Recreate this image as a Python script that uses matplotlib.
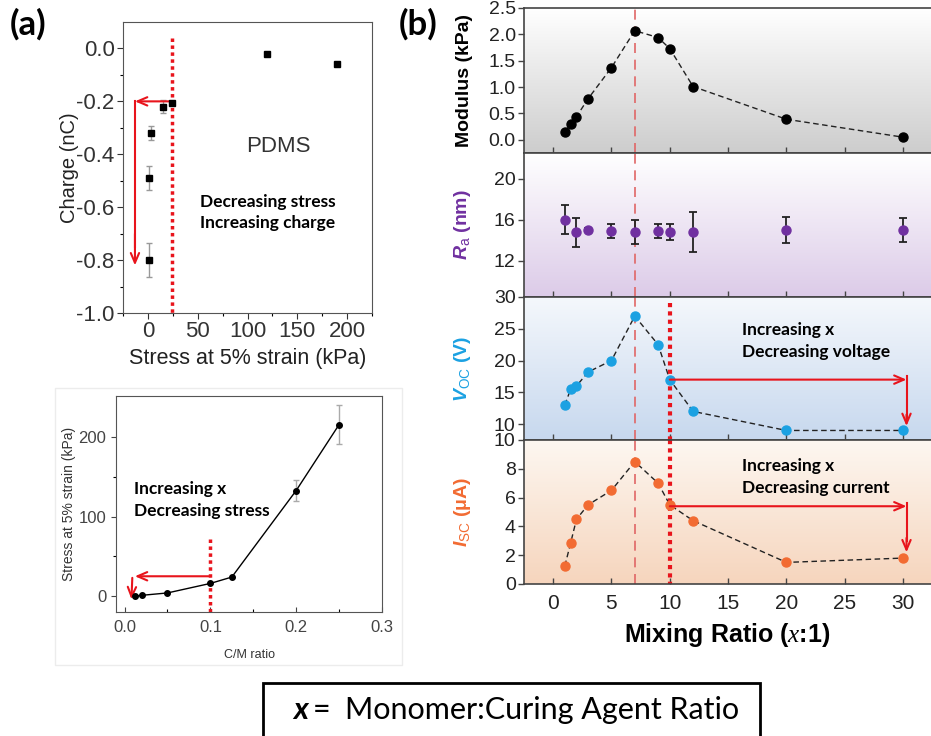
import numpy as np
import matplotlib
matplotlib.use("Agg")
import matplotlib.pyplot as plt
from matplotlib.colors import LinearSegmentedColormap
from matplotlib.patches import Rectangle

plt.rcParams['font.family'] = ['Liberation Sans', 'DejaVu Sans']
plt.rcParams['mathtext.fontset'] = 'custom'
plt.rcParams['mathtext.it'] = 'Liberation Sans:italic:bold'
plt.rcParams['mathtext.rm'] = 'Liberation Sans'
plt.rcParams['mathtext.sf'] = 'Liberation Serif:italic'

# ---- data: panel (a) top, charge vs stress
stress_a = [120, 190, 24, 15, 3, 1, 1]
charge = [-0.02, -0.06, -0.205, -0.22, -0.32, -0.49, -0.80]
charge_err = [0, 0, 0, 0.025, 0.025, 0.045, 0.065]

# ---- panel (a) bottom, stress vs C/M ratio
cm_ratio = [0.0125, 0.02, 0.05, 0.1, 0.125, 0.2, 0.25]
stress_cm = [0, 1, 4, 16, 24, 133, 216]
stress_err = [0, 0, 0, 0, 0, 13, 25]

# ---- panel (b), vs mixing ratio
mix = [1, 1.5, 2, 3, 5, 7, 9, 10, 12, 20, 30]
modulus = [0.15, 0.3, 0.44, 0.78, 1.37, 2.07, 1.94, 1.73, 1.01, 0.39, 0.05]
mix_ra = [1, 2, 3, 5, 7, 9, 10, 12, 20, 30]
ra = [16.0, 14.8, 15.0, 14.9, 14.8, 14.9, 14.8, 14.8, 15.0, 15.0]
ra_err = [1.4, 1.4, 0.2, 0.7, 1.15, 0.7, 0.8, 1.95, 1.25, 1.2]
voc = [13.0, 15.5, 16.0, 18.2, 20.0, 27.0, 22.5, 17.0, 12.0, 9.0, 9.0]
isc = [1.25, 2.85, 4.5, 5.5, 6.5, 8.5, 7.0, 5.5, 4.4, 1.5, 1.8]

RED = '#e8141c'
PURPLE = '#7030a0'
BLUE = '#1ba1e2'
ORANGE = '#f26b32'
ANN_FONT = ['Lato', 'DejaVu Sans']

W, H = 931, 736
fig = plt.figure(figsize=(W / 100, H / 100), dpi=100)


def box(l, t, r, b):
    return [l / W, 1 - b / H, (r - l) / W, (b - t) / H]


def arrow(ax, start, end, lw=1.5):
    ax.annotate('', xy=end, xytext=start,
                arrowprops=dict(arrowstyle='->,head_length=0.7,head_width=0.3',
                                color=RED, lw=lw, shrinkA=0, shrinkB=0))


def gradient(ax, top, bottom):
    c = np.linspace(0, 1, 256)[:, None]
    cmap = LinearSegmentedColormap.from_list('g', [top, bottom])
    ax.imshow(c, aspect='auto', cmap=cmap, extent=[0, 1, 0, 1],
              transform=ax.transAxes, zorder=0)


# ================= (a) top =================
ax = fig.add_axes(box(123, 22, 372, 313))
ax.errorbar(stress_a, charge, yerr=charge_err, fmt='s', color='black', ms=5,
            ecolor='#999999', elinewidth=1, capsize=2.5, zorder=3)
ax.set_xlim(-25, 225)
ax.set_ylim(-1.0, 0.1)
ax.set_xticks([0, 50, 100, 150, 200])
ax.set_xticks(np.arange(-25, 226, 25), minor=True)
ax.set_yticks(np.arange(-1.0, 0.01, 0.2))
ax.set_yticks(np.arange(-1.0, 0.1, 0.1), minor=True)
ax.set_yticklabels(['-1.0', '-0.8', '-0.6', '-0.4', '-0.2', '0.0'])
ax.tick_params(labelsize=16, colors='#333333', length=4, width=0.8, pad=2)
ax.tick_params(which='minor', length=2.5, width=0.8)
for s in ax.spines.values():
    s.set_color('#555555')
ax.set_xlabel('Stress at 5% strain (kPa)', fontsize=15.5, color='#222222', labelpad=4)
ax.set_ylabel('Charge (nC)', fontsize=14.5, color='#222222', labelpad=-2)
ax.plot([24, 24], [0.04, -1.0], color=RED, lw=2.5, ls=(0, (1, 1)), zorder=2, clip_on=False)
arrow(ax, (24, -0.2), (-13, -0.2))
ax.plot([-13, -13], [-0.2, -0.75], color=RED, lw=1.5)
arrow(ax, (-13, -0.7), (-13, -0.82))
ax.text(131, -0.37, 'PDMS', fontsize=16, color='#333333', ha='center', va='center')
ax.text(52, -0.62, 'Decreasing stress\nIncreasing charge', fontsize=12.5, fontweight='bold',
        family=ANN_FONT, ha='left', va='center', linespacing=1.45)

# ================= (a) bottom =================
fig.patches.append(Rectangle((55 / W, 1 - 665 / H), 347 / W, 277 / H, transform=fig.transFigure,
                             fill=False, edgecolor='#ececec', lw=1))
ax = fig.add_axes(box(116, 396, 382, 612))
ax.errorbar(cm_ratio, stress_cm, yerr=stress_err, fmt='o-', color='black', ms=4,
            lw=1, ecolor='#aaaaaa', elinewidth=1, capsize=2.5, zorder=3)
ax.set_xlim(-0.01, 0.3)
ax.set_ylim(-20, 252)
ax.set_xticks([0.0, 0.1, 0.2, 0.3])
ax.set_xticks(np.arange(0, 0.31, 0.05), minor=True)
ax.set_yticks([0, 100, 200])
ax.set_yticks([50, 150], minor=True)
ax.tick_params(labelsize=12, colors='#444444', length=3.5, width=0.8)
ax.tick_params(axis='x', direction='in', pad=6)
ax.tick_params(which='minor', length=2, width=0.8)
ax.tick_params(axis='x', which='minor', direction='in')
for s in ax.spines.values():
    s.set_color('#555555')
ax.set_xlabel('C/M ratio', fontsize=9, color='#333333', labelpad=10)
ax.set_ylabel('Stress at 5% strain (kPa)', fontsize=10, color='#333333', labelpad=2)
ax.plot([0.1, 0.1], [72, -20], color=RED, lw=2.5, ls=(0, (1, 1)), zorder=2)
arrow(ax, (0.1, 25), (0.012, 25))
arrow(ax, (0.009, 23), (0.008, -4))
ax.text(0.0105, 121, 'Increasing x\nDecreasing stress', fontsize=12.5, fontweight='bold',
        family=ANN_FONT, ha='left', va='center', linespacing=1.45)

# ================= (b) stacked =================
XL = (-2.5, 32.4)
rows = [(8, 153), (153, 297), (297, 440), (440, 584)]
bgs = [('#ffffff', '#cdcdcd'), ('#ffffff', '#dccbe8'),
       ('#f5f8fc', '#c7d8ee'), ('#fdf7f1', '#f6d5bd')]
axes_b = []
for (t, b), (c1, c2) in zip(rows, bgs):
    axb = fig.add_axes(box(524, t, 931, b))
    gradient(axb, c1, c2)
    axb.set_xlim(*XL)
    axb.set_xticks(np.arange(0, 31, 5))
    axb.tick_params(axis='x', direction='in', length=4, width=1, color='#444444')
    axb.tick_params(axis='y', direction='out', length=4, width=1, color='#444444',
                    labelsize=14, labelcolor='#222222', pad=2)
    axb.tick_params(axis='x', labelbottom=False)
    axb.spines['right'].set_visible(False)
    for s in axb.spines.values():
        s.set_color('#444444')
        s.set_linewidth(1.2)
    axb.axvline(7, color='#e06666', lw=1.2, ls=(0, (6, 4)), zorder=1)
    axes_b.append(axb)

a1, a2, a3, a4 = axes_b
dash = (0, (4, 2.5))

a1.plot(mix, modulus, color='#222222', lw=1, ls=dash, zorder=2)
a1.plot(mix, modulus, 'o', color='black', ms=6.5, zorder=3)
a1.set_ylim(-0.25, 2.5)
a1.set_yticks(np.arange(0, 2.51, 0.5))
a1.set_yticklabels(['0.0', '0.5', '1.0', '1.5', '2.0', '2.5'])
a1.set_ylabel('Modulus (kPa)', fontsize=14, fontweight='bold')

a2.errorbar(mix_ra, ra, yerr=ra_err, fmt='o', color=PURPLE, ms=6.5, ecolor='#222222',
            elinewidth=1.3, capsize=3, capthick=1.3, zorder=3)
a2.set_ylim(8.5, 22.5)
a2.set_yticks([12, 16, 20])
a2.set_ylabel(r'$R_\mathrm{a}$ (nm)', fontsize=14, fontweight='bold', color=PURPLE)

a3.plot(mix, voc, color='#222222', lw=1, ls=dash, zorder=2)
a3.plot(mix, voc, 'o', color=BLUE, ms=6.5, zorder=3)
a3.set_ylim(7.5, 30)
a3.set_yticks([10, 15, 20, 25, 30])
a3.set_ylabel(r'$V_\mathrm{OC}$ (V)', fontsize=14, fontweight='bold', color=BLUE)
a3.plot([10, 10], [29, 7.5], color=RED, lw=3, ls=(0, (1, 1)), zorder=2)
arrow(a3, (10, 17), (30.3, 17))
a3.plot([30.3, 30.3], [17.5, 11], color=RED, lw=1.5)
arrow(a3, (30.3, 11.5), (30.3, 9.7))
a3.text(16.2, 23.1, 'Increasing x\nDecreasing voltage', fontsize=12.5, fontweight='bold',
        family=ANN_FONT, ha='left', va='center', linespacing=1.45)

a4.plot(mix, isc, color='#222222', lw=1, ls=dash, zorder=2)
a4.plot(mix, isc, 'o', color=ORANGE, ms=6.5, zorder=3)
a4.set_ylim(0, 10)
a4.set_yticks([0, 2, 4, 6, 8, 10])
a4.set_ylabel('$I_\\mathrm{SC}$ (\u03bcA)', fontsize=14, fontweight='bold', color=ORANGE)
a4.plot([10, 10], [10, 0], color=RED, lw=3, ls=(0, (1, 1)), zorder=2)
arrow(a4, (10, 5.4), (30.3, 5.4))
a4.plot([30.3, 30.3], [5.6, 3], color=RED, lw=1.5)
arrow(a4, (30.3, 3.2), (30.3, 2.2))
a4.text(16.2, 7.45, 'Increasing x\nDecreasing current', fontsize=12.5, fontweight='bold',
        family=ANN_FONT, ha='left', va='center', linespacing=1.45)
a4.tick_params(axis='x', labelbottom=True, labelsize=15, labelcolor='#222222', pad=7)
a4.set_xlabel(r'Mixing Ratio ($\mathsf{x}$:1)', fontsize=18, fontweight='bold', labelpad=6)

for axb in axes_b:
    axb.yaxis.set_label_coords(-0.125, 0.5)

# ---- panel labels and footer box
fig.text(10 / W, 1 - 24 / H, '(a)', fontsize=25, fontweight='bold', family=ANN_FONT, va='center')
fig.text(399 / W, 1 - 24 / H, '(b)', fontsize=25, fontweight='bold', family=ANN_FONT, va='center')
fig.patches.append(Rectangle((263 / W, -0.01), 497 / W, (736 - 683) / H + 0.01,
                             transform=fig.transFigure, fill=False, edgecolor='black', lw=2))
fig.text(308 / W, 1 - 710 / H, 'x', fontsize=22, fontweight='bold', style='italic',
         family=ANN_FONT, ha='right', va='center')
fig.text(313 / W, 1 - 710 / H, '=', fontsize=22, family=ANN_FONT, ha='left', va='center')
fig.text(345 / W, 1 - 710 / H, 'Monomer:Curing Agent Ratio', fontsize=22,
         family=ANN_FONT, ha='left', va='center')

fig.savefig('out.png', dpi=100)
